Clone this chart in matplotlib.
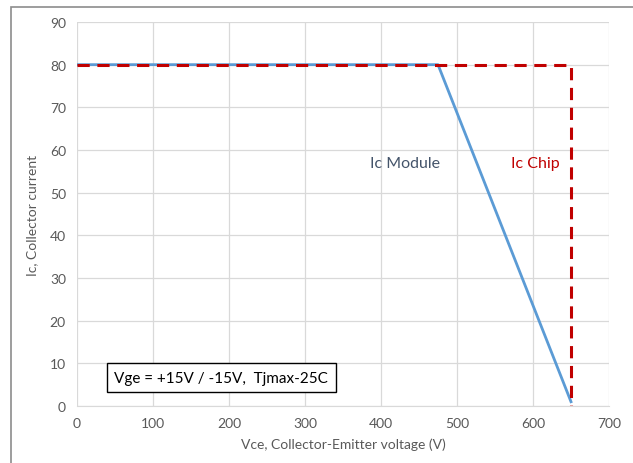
import matplotlib.pyplot as plt
from matplotlib.patches import Rectangle

# Data
vce_module = [0, 475, 650]
ic_module = [80, 80, 1]
vce_chip = [0, 650, 650]
ic_chip = [80, 80, 0]
x_ticks = [0, 100, 200, 300, 400, 500, 600, 700]
y_ticks = [0, 10, 20, 30, 40, 50, 60, 70, 80, 90]

plt.rcParams['font.family'] = ['Lato', 'DejaVu Sans']

fig = plt.figure(figsize=(6.33, 4.64), dpi=100)
ax = fig.add_axes([77/633, 57/464, 532/633, 384/464])

# outer chart border (Excel style)
fig.patches.append(Rectangle((11/633, -0.1), 1.0, 1.1 - 8/464,
                             transform=fig.transFigure, fill=False,
                             edgecolor='#8c8c8c', linewidth=1.2))

ax.plot(vce_module, ic_module, color='#5B9BD5', linewidth=2, zorder=3)
ax.plot(vce_chip, ic_chip, color='#C00000', linewidth=2.2,
        linestyle=(0, (4, 2.5)), zorder=4)

ax.set_xlim(0, 700)
ax.set_ylim(0, 90)
ax.set_xticks(x_ticks)
ax.set_yticks(y_ticks)
ax.grid(True, color='#D9D9D9', linewidth=0.9)
ax.set_axisbelow(True)
for s in ['top', 'right', 'left']:
    ax.spines[s].set_visible(False)
ax.spines['bottom'].set_color('#D9D9D9')
ax.tick_params(length=0, colors='#595959', labelsize=10, pad=8)

ax.set_xlabel('Vce, Collector-Emitter voltage (V)', color='#595959', fontsize=10, labelpad=6)
ax.set_ylabel('Ic, Collector current', color='#595959', fontsize=10, labelpad=8)

ax.text(432, 57, 'Ic Module', color='#44546A', fontsize=11.5, ha='center', va='center')
ax.text(603, 57, 'Ic Chip', color='#C00000', fontsize=11.5, ha='center', va='center')

ax.text(49, 6.6, 'Vge = +15V / -15V,  Tjmax-25C', fontsize=11, color='black',
        ha='left', va='center',
        bbox=dict(boxstyle='square,pad=0.5', facecolor='white', edgecolor='black', linewidth=1))

fig.savefig('out.png', dpi=100)
